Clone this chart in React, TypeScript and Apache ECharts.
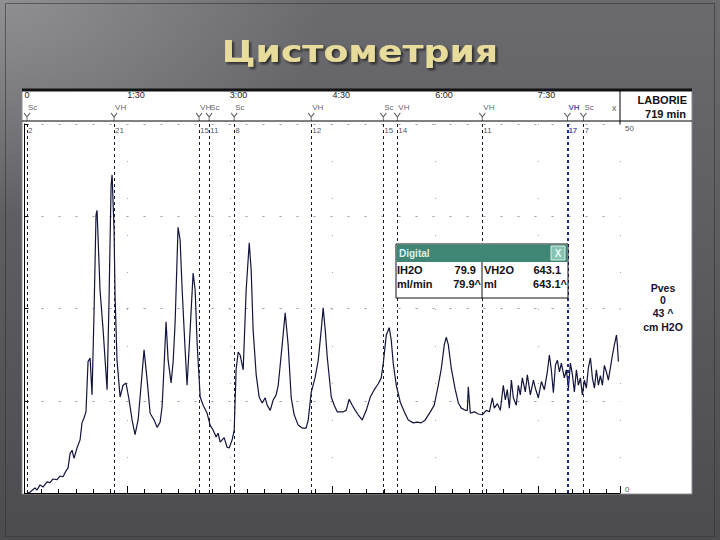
import React, { useEffect, useRef } from "react";
import * as echarts from "echarts";

// Time (s) and bladder pressure Pves (cm H2O)
const timeSec = [
  2.2, 4.8, 9.2, 11, 13.6, 16.2, 19.7, 22.4, 25, 28.5, 31.1, 33.8, 36.4, 38.2, 39.9, 41.7, 43.4, 46, 48.7, 50.4,
  52.2, 53.9, 55.7, 57.5, 59.2, 61, 62.7, 63.6, 66.2, 68.9, 72.4, 74.1, 75.9, 76.8, 78.5, 79.4, 81.1, 83.8, 86.4, 89,
  91.7, 94.3, 96.9, 99.6, 102.2, 104.8, 107.5, 110.1, 113.6, 116.2, 118.9, 120.6, 121.5, 124.1, 125.9, 128.5, 130.3, 132, 134.6, 136.4,
  138.2, 140.8, 142.5, 145.2, 147.8, 149.6, 151.3, 154, 156.6, 160.1, 162.7, 165.4, 168, 169.7, 171.5, 175, 177.6, 179.4, 182, 183.8,
  185.5, 187.3, 189, 191.7, 194.3, 197, 198.7, 200.4, 203.1, 205.7, 208.3, 211, 212.7, 215.4, 218, 220.6, 222.4, 225.9, 228.5, 231.1,
  233.8, 236.4, 239.9, 243.4, 246.9, 248.7, 251.3, 254.8, 257.5, 260.1, 261.8, 263.6, 265.4, 268.9, 271.5, 274.1, 279.4, 282, 284.6, 287.3,
  289.9, 292.5, 296, 299.6, 303.1, 306.6, 310.1, 312.7, 314.5, 317.1, 319.7, 321.5, 323.2, 325.9, 329.4, 332.9, 336.4, 340.8, 344.3, 347.8,
  351.3, 355.7, 359.2, 362.7, 365.4, 368, 369.7, 371.5, 374.1, 377.6, 380.3, 382.9, 386.4, 388.2, 389, 390.8, 394.3, 397.8, 401.3, 404.8,
  407.5, 410.1, 411.8, 414.5, 417.1, 419.7, 421.5, 423.2, 425, 426.8, 428.5, 431.1, 432.9, 434.6, 436.4, 439, 440.8, 443.4, 446.1, 447.8,
  450.4, 453.1, 455.7, 458.3, 460.1, 461.8, 463.6, 465.4, 467.1, 468.9, 470.6, 473.2, 475, 476.8, 478.5, 480.3, 482, 483.8, 485.5, 487.3,
  489, 490.8, 492.5, 494.3, 496.1, 497.8, 499.6, 501.3, 503.1, 504.8, 506.6, 508.3, 510.1, 511.8, 513.6, 515.4, 517.1, 518.9, 519.7, 520.6
];
const pves = [
  0, 0.1, 0.7, 0.4, 1.1, 0.8, 1.5, 1.4, 1.9, 1.8, 2.3, 2.2, 3.0, 3.4, 5.3, 5.8, 4.7, 6.1, 7.2, 9.5,
  10.2, 11, 17.8, 18.3, 13.3, 24.8, 37.7, 38.3, 27.5, 22.1, 14, 26.2, 41.7, 43.1, 35.6, 26.6, 18, 13, 14.6, 14.9,
  12.6, 9.9, 7.9, 9.9, 14.6, 19.4, 15.3, 10.8, 9.9, 8.9, 9.6, 11.7, 14.4, 23.2, 18, 14.9, 17.8, 23, 36, 34.3,
  27.5, 19.4, 14.6, 22.1, 29.8, 27.5, 20.3, 13, 11.9, 10.8, 9.2, 8.5, 7.6, 8.1, 6.9, 7.5, 6.2, 6.1, 7.2, 8.5,
  16.7, 19.1, 18.7, 16.7, 27.5, 33.9, 30.2, 22.1, 16, 13, 12.2, 12.9, 11.9, 11.2, 12.6, 13.3, 14.6, 20.1, 24.4, 20.1,
  12.9, 10.6, 9.2, 8.8, 8.8, 9.9, 13.6, 15.7, 18, 22.1, 25.1, 22.1, 18.4, 13, 11.9, 11, 11, 11.2, 12.7, 11.9,
  11.2, 10.6, 9.9, 11.2, 13, 14, 14.8, 15.6, 17.6, 21.4, 22.4, 20.7, 17.6, 14.6, 12.3, 11, 9.9, 9.5, 9.6, 9.5,
  9.9, 11, 11.9, 14.6, 16.9, 20.1, 21.1, 20.1, 16.9, 14, 12.2, 11.5, 11.2, 11.2, 14.4, 10.8, 11, 10.7, 10.6, 11.2,
  11, 12.9, 11.5, 12.1, 11.2, 14.6, 12.6, 14, 11.5, 15.3, 12.9, 11.9, 14.6, 13.3, 15.6, 13.7, 16, 13.3, 15.3, 14.2,
  12.9, 15.1, 14, 16.4, 18.7, 16.7, 13.6, 17.3, 18, 16.4, 17.6, 15.6, 16.7, 14.2, 17.6, 16, 13.7, 16.7, 14.6, 15.6,
  13.3, 15.3, 14.2, 17, 18.3, 15.6, 14.2, 16.7, 14.6, 15.9, 14.6, 17.3, 16.4, 15.3, 17, 18.7, 20.1, 21.4, 20.1, 17.8
];

// Event markers
const markerTimes = [2.2, 78.5, 153, 161.8, 183.8, 251.3, 314.5, 326.8, 401.3, 475.9, 489.9];
const markerCodes = ["Sc", "VH", "VH", "Sc", "Sc", "VH", "Sc", "VH", "VH", "VH", "Sc"];
const markerNumbers = ["2", "21", "15", "11", "8", "12", "15", "14", "11", "17", "7"];
const endTime = 517;

// Axis ticks
const timeTicks = [0, 90, 180, 270, 360, 450];
const timeLabels = ["0", "1:30", "3:00", "4:30", "6:00", "7:30"];
const pvesMin = 0;
const pvesMax = 50;

// Digital read-out
const digitalRow1 = ["IH2O", "79.9", "VH2O", "643.1"];
const digitalRow2 = ["ml/min", "79.9^", "ml", "643.1^"];

const SANS = '"Liberation Sans", Arial, sans-serif';

export default function App() {
  const ref = useRef<HTMLDivElement>(null);

  useEffect(() => {
    if (!ref.current) return;
    const chart = echarts.init(ref.current, undefined, { renderer: "svg" });

    const traceData = timeSec.map((t, i) => [t, pves[i]]);
    const markPoints = markerTimes.map((t) => [t, pvesMax]);
    const specialIdx = 9;

    const option: any = {
      animation: false,
      backgroundColor: "transparent",
      grid: { left: 24.5, right: 100, top: 124, bottom: 47, outerBoundsMode: "none" },
      xAxis: {
        type: "value",
        position: "top",
        min: 0,
        max: 522,
        interval: 90,
        offset: 3,
        axisLine: { show: true, lineStyle: { color: "#000", width: 1 } },
        axisTick: { show: true, length: 7, lineStyle: { color: "#000" } },
        minorTick: { show: true, splitNumber: 6, length: 4, lineStyle: { color: "#000" } },
        axisLabel: {
          formatter: (v: number) => {
            const i = timeTicks.indexOf(v);
            return i >= 0 ? timeLabels[i] : "";
          },
          align: "left",
          margin: 22,
          fontSize: 9,
          color: "#222",
          fontFamily: SANS,
          showMaxLabel: false,
        },
        splitLine: { show: true, lineStyle: { color: "#aaa", type: [1, 36], width: 1 } },
      },
      yAxis: {
        type: "value",
        position: "right",
        min: pvesMin,
        max: pvesMax,
        interval: 12.5,
        axisLine: { show: true, lineStyle: { color: "#000", width: 1 } },
        axisTick: { show: true, length: 4, lineStyle: { color: "#000" } },
        axisLabel: {
          formatter: (v: number) => (v === pvesMin || v === pvesMax ? String(v) : ""),
          fontSize: 8,
          color: "#555",
          margin: 5,
          fontFamily: SANS,
          verticalAlignMaxLabel: "top",
          verticalAlignMinLabel: "bottom",
        },
        splitLine: { show: true, lineStyle: { color: "#9a9a9a", type: [2, 15], width: 1 } },
      },
      series: [
        {
          type: "line",
          data: traceData,
          showSymbol: false,
          symbol: "none",
          z: 3,
          lineStyle: { color: "#12143c", width: 1.2 },
          markLine: {
            silent: true,
            symbol: ["none", "none"],
            label: { show: false },
            data: markerTimes.map((t, i) => ({
              xAxis: t,
              lineStyle: {
                color: i === specialIdx ? "#1c2a8c" : "#1a1a2e",
                type: [3, 3],
                width: i === specialIdx ? 2 : 1,
              },
            })),
          },
        },
        {
          type: "scatter",
          clip: false,
          data: markPoints,
          symbol: "path://M0,0 L4,5 L8,0 M4,5 L4,10",
          symbolSize: [6, 8],
          symbolOffset: [0, -7],
          itemStyle: { color: "none", borderColor: "#333", borderWidth: 1 },
          silent: true,
          z: 4,
        },
        {
          type: "scatter",
          clip: false,
          data: markPoints.map((p, i) => ({
            value: p,
            label: {
              color: i === specialIdx ? "#1c2a8c" : "#333",
              fontWeight: i === specialIdx ? "bold" : "normal",
            },
          })),
          symbolSize: 1,
          itemStyle: { color: "rgba(0,0,0,0)" },
          silent: true,
          z: 4,
          label: {
            show: true,
            position: "inside",
            align: "left",
            verticalAlign: "middle",
            offset: [1, -17],
            fontSize: 8,
            fontFamily: SANS,
            formatter: (p: any) => markerCodes[p.dataIndex],
          },
        },
        {
          type: "scatter",
          clip: false,
          data: markPoints.map((p, i) => ({
            value: p,
            label: {
              color: i === specialIdx ? "#1c2a8c" : "#1a1a3a",
              fontWeight: i === specialIdx ? "bold" : "normal",
            },
          })),
          symbolSize: 1,
          itemStyle: { color: "rgba(0,0,0,0)" },
          silent: true,
          z: 4,
          label: {
            show: true,
            position: "inside",
            align: "left",
            verticalAlign: "middle",
            offset: [1, 6],
            fontSize: 8,
            fontFamily: SANS,
            formatter: (p: any) => markerNumbers[p.dataIndex],
          },
        },
        {
          type: "scatter",
          clip: false,
          data: [[endTime, pvesMax]],
          symbolSize: 1,
          itemStyle: { color: "rgba(0,0,0,0)" },
          silent: true,
          z: 4,
          label: {
            show: true,
            position: "inside",
            align: "center",
            verticalAlign: "middle",
            offset: [0, -16],
            fontSize: 9,
            color: "#333",
            fontFamily: SANS,
            formatter: "x",
          },
        },
      ],
      graphic: [
        {
          type: "rect",
          z: -10,
          silent: true,
          shape: { x: 5.5, y: 3.5, width: 709, height: 533 },
          style: { fill: "none", stroke: "rgba(45,45,50,0.55)", lineWidth: 1 },
        },
        {
          type: "text",
          z: 10,
          x: 360,
          y: 51,
          scaleX: 1.17,
          style: {
            text: "Цистометрия",
            font: 'bold 31px "DejaVu Sans", sans-serif',
            fill: "#e7dc9b",
            textAlign: "center",
            textVerticalAlign: "middle",
            textShadowColor: "rgba(20,20,20,0.7)",
            textShadowBlur: 2,
            textShadowOffsetX: 2,
            textShadowOffsetY: 2,
          },
        },
        {
          type: "rect",
          z: -10,
          silent: true,
          shape: { x: 22, y: 90, width: 670, height: 404 },
          style: { fill: "#ffffff", stroke: "#8a8a8a", lineWidth: 1 },
        },
        {
          type: "rect",
          z: 5,
          silent: true,
          shape: { x: 22, y: 88.5, width: 670, height: 3 },
          style: { fill: "#121212" },
        },
        {
          type: "line",
          z: 5,
          silent: true,
          shape: { x1: 22, y1: 121, x2: 692, y2: 121 },
          style: { stroke: "#000", lineWidth: 1 },
        },
        {
          type: "line",
          z: 5,
          silent: true,
          shape: { x1: 620, y1: 90, x2: 620, y2: 124 },
          style: { stroke: "#000", lineWidth: 1 },
        },
        {
          type: "text",
          z: 5,
          x: 687,
          y: 100,
          style: { text: "LABORIE", font: `bold 11px ${SANS}`, fill: "#111", textAlign: "right", textVerticalAlign: "middle" },
        },
        {
          type: "text",
          z: 5,
          x: 686,
          y: 114,
          style: { text: "719 min", font: `bold 11px ${SANS}`, fill: "#111", textAlign: "right", textVerticalAlign: "middle" },
        },
        {
          type: "group",
          z: 5,
          children: [
            { type: "text", x: 663, y: 288, style: { text: "Pves", font: `bold 10.5px ${SANS}`, fill: "#141430", textAlign: "center", textVerticalAlign: "middle" } },
            { type: "text", x: 663, y: 300, style: { text: "0", font: `bold 10.5px ${SANS}`, fill: "#141430", textAlign: "center", textVerticalAlign: "middle" } },
            { type: "text", x: 663, y: 313, style: { text: "43 ^", font: `bold 10.5px ${SANS}`, fill: "#141430", textAlign: "center", textVerticalAlign: "middle" } },
            { type: "text", x: 663, y: 327, style: { text: "cm H2O", font: `bold 10.5px ${SANS}`, fill: "#141430", textAlign: "center", textVerticalAlign: "middle" } },
          ],
        },
        {
          type: "group",
          z: 100,
          children: [
            { type: "rect", z: 100, shape: { x: 396, y: 244, width: 172, height: 54 }, style: { fill: "#fff", stroke: "#111", lineWidth: 1 } },
            { type: "rect", z: 101, shape: { x: 396.5, y: 244.5, width: 171, height: 17.5 }, style: { fill: "#3f8674" } },
            { type: "text", z: 102, x: 399, y: 253, style: { text: "Digital", font: `bold 10px ${SANS}`, fill: "#dff0e8", textVerticalAlign: "middle" } },
            { type: "rect", z: 102, shape: { x: 551, y: 246, width: 14, height: 14 }, style: { fill: "#86c3b2", stroke: "#d8efe6", lineWidth: 1 } },
            { type: "text", z: 103, x: 558, y: 253.5, style: { text: "X", font: `bold 10px ${SANS}`, fill: "#eaf7f1", textAlign: "center", textVerticalAlign: "middle" } },
            { type: "line", z: 102, shape: { x1: 482, y1: 262, x2: 482, y2: 298 }, style: { stroke: "#111", lineWidth: 1 } },
            { type: "text", z: 102, x: 397, y: 270, style: { text: digitalRow1[0], font: `bold 11px ${SANS}`, fill: "#111", textVerticalAlign: "middle" } },
            { type: "text", z: 102, x: 476, y: 270, style: { text: digitalRow1[1], font: `bold 11px ${SANS}`, fill: "#111", textAlign: "right", textVerticalAlign: "middle" } },
            { type: "text", z: 102, x: 484, y: 270, style: { text: digitalRow1[2], font: `bold 11px ${SANS}`, fill: "#111", textVerticalAlign: "middle" } },
            { type: "text", z: 102, x: 561, y: 270, style: { text: digitalRow1[3], font: `bold 11px ${SANS}`, fill: "#111", textAlign: "right", textVerticalAlign: "middle" } },
            { type: "text", z: 102, x: 397, y: 284, style: { text: digitalRow2[0], font: `bold 11px ${SANS}`, fill: "#111", textVerticalAlign: "middle" } },
            { type: "text", z: 102, x: 481, y: 284, style: { text: digitalRow2[1], font: `bold 11px ${SANS}`, fill: "#111", textAlign: "right", textVerticalAlign: "middle" } },
            { type: "text", z: 102, x: 484, y: 284, style: { text: digitalRow2[2], font: `bold 11px ${SANS}`, fill: "#111", textVerticalAlign: "middle" } },
            { type: "text", z: 102, x: 567, y: 284, style: { text: digitalRow2[3], font: `bold 11px ${SANS}`, fill: "#111", textAlign: "right", textVerticalAlign: "middle" } },
          ],
        },
      ],
    };

    chart.setOption(option);
    return () => {
      chart.dispose();
    };
  }, []);

  return (
    <div
      ref={ref}
      style={{
        position: "fixed",
        left: 0,
        top: 0,
        width: 720,
        height: 540,
        background:
          "radial-gradient(ellipse 45% 40% at 0% 0%, rgba(150,150,154,0.85) 0%, rgba(150,150,154,0) 100%), linear-gradient(180deg, #6b6b6f 0%, #5d5d61 45%, #4c4c50 100%)",
      }}
    />
  );
}
